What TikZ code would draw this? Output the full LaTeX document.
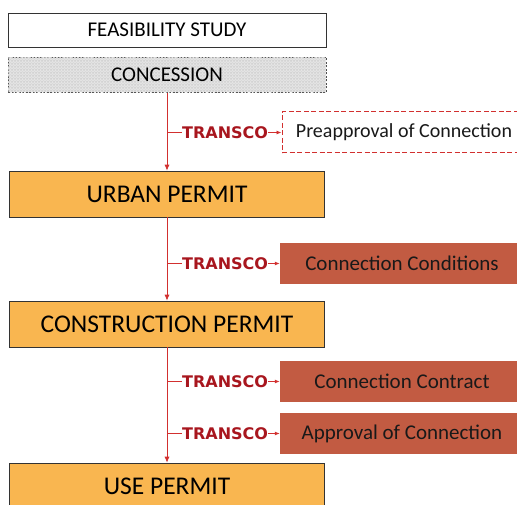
\documentclass[tikz,border=0pt]{standalone}
\usepackage{fontspec}
\setmainfont{Carlito}
\newfontfamily\tfont{DejaVu Sans}
\usetikzlibrary{arrows.meta,patterns}
\definecolor{permitfill}{HTML}{F9B650}
\definecolor{brick}{HTML}{C25B42}
\definecolor{lred}{HTML}{D2302F}
\definecolor{tred}{HTML}{A8161E}
\begin{document}
\begin{tikzpicture}[x=1pt,y=-1pt,
  topbox/.style={draw=black!80,line width=0.6pt,fill=white,minimum width=318pt,minimum height=34pt,inner sep=0pt,font=\fontsize{21}{24}\selectfont},
  concbox/.style={draw=black!70,dash pattern=on 2pt off 1.5pt,line width=0.6pt,fill=black!10,postaction={pattern=crosshatch,pattern color=black!18},minimum width=318pt,minimum height=35pt,inner sep=0pt,font=\fontsize{21}{24}\selectfont},
  permit/.style={draw=black!80,line width=0.6pt,fill=permitfill,minimum width=315pt,minimum height=46pt,inner sep=0pt,font=\fontsize{25.5}{28}\selectfont},
  side/.style={fill=brick,minimum width=244pt,minimum height=41pt,inner sep=0pt},
  sidetext/.style={font=\fontsize{21}{24}\selectfont,text=black!90},
  pre/.style={draw=lred,dash pattern=on 5pt off 2.5pt,line width=1pt,fill=white,minimum width=244pt,minimum height=41pt,inner sep=0pt},
  tr/.style={font=\tfont\bfseries\fontsize{16}{18}\selectfont,text=tred,inner sep=0pt},
  vline/.style={draw=lred,line width=0.8pt,-{Latex[length=6pt,width=5pt]}},
  hline/.style={draw=lred,line width=0.8pt},
  harrow/.style={draw=lred,line width=0.8pt,-{Latex[length=5pt,width=4pt]}}
]
\useasboundingbox (0,0) rectangle (517,505);
% main column
\node[topbox] (feas) at (167,30) {FEASIBILITY STUDY};
\node[concbox] (conc) at (167,75) {CONCESSION};
\node[permit] (urban) at (167,194) {URBAN PERMIT};
\node[permit] (constr) at (167,324) {CONSTRUCTION PERMIT};
\node[permit] (use) at (167,486) {USE PERMIT};
% side boxes
\node[pre] (prebox) at (404,132.5) {};
\node[sidetext,font=\fontsize{20}{23}\selectfont] at (prebox) {Preapproval of Connection};
\node[side] (cond) at (402,263.5) {};
\node[sidetext] at (cond) {Connection Conditions};
\node[side] (contr) at (402,381.5) {};
\node[sidetext] at (contr) {Connection Contract};
\node[side] (appr) at (402,433.5) {};
\node[sidetext] at (appr) {Approval of Connection};
% vertical arrows
\draw[vline] (conc.south) -- (urban.north);
\draw[vline] (urban.south) -- (constr.north);
\draw[vline] (constr.south) -- (use.north);
% TRANSCO branches
\coordinate (b1) at (167,132.5);
\coordinate (b2) at (167,263.5);
\coordinate (b3) at (167,381.5);
\coordinate (b4) at (167,433.5);
\node[tr,anchor=west] (t1) at (182,132.5) {TRANSCO};
\node[tr,anchor=west] (t2) at (182,263.5) {TRANSCO};
\node[tr,anchor=west] (t3) at (182,381.5) {TRANSCO};
\node[tr,anchor=west] (t4) at (182,433.5) {TRANSCO};
\draw[hline] (b1) -- (t1.west);
\draw[hline] (b2) -- (t2.west);
\draw[hline] (b3) -- (t3.west);
\draw[hline] (b4) -- (t4.west);
\draw[harrow] (t1.east) -- (prebox.west);
\draw[harrow] (t2.east) -- (cond.west);
\draw[harrow] (t3.east) -- (contr.west);
\draw[harrow] (t4.east) -- (appr.west);
\end{tikzpicture}
\end{document}
